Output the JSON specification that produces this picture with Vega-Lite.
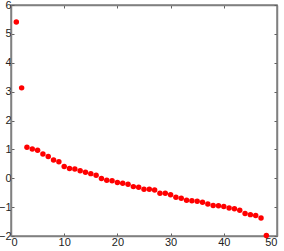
{
  "$schema": "https://vega.github.io/schema/vega-lite/v6.json",
  "autosize": "none",
  "width": 266,
  "height": 231,
  "padding": {"left": 11, "top": 5, "right": 6, "bottom": 15},
  "background": "white",
  "config": {
    "view": {"stroke": "#808080", "strokeWidth": 1.5},
    "axis": {
      "domainColor": "#808080",
      "domainWidth": 1.5,
      "tickColor": "#606060",
      "tickSize": -3,
      "grid": false,
      "labelFont": "Liberation Sans",
      "labelFontSize": 11,
      "labelColor": "#222222",
      "title": null
    }
  },
  "data": {
    "values": [
      {"i": 1, "v": 5.41}, {"i": 2, "v": 3.13}, {"i": 3, "v": 1.07}, {"i": 4, "v": 1.01},
      {"i": 5, "v": 0.97}, {"i": 6, "v": 0.84}, {"i": 7, "v": 0.75}, {"i": 8, "v": 0.63},
      {"i": 9, "v": 0.57}, {"i": 10, "v": 0.41}, {"i": 11, "v": 0.34}, {"i": 12, "v": 0.32},
      {"i": 13, "v": 0.26}, {"i": 14, "v": 0.21}, {"i": 15, "v": 0.16}, {"i": 16, "v": 0.10},
      {"i": 17, "v": -0.01}, {"i": 18, "v": -0.07}, {"i": 19, "v": -0.09}, {"i": 20, "v": -0.15},
      {"i": 21, "v": -0.17}, {"i": 22, "v": -0.21}, {"i": 23, "v": -0.29}, {"i": 24, "v": -0.31},
      {"i": 25, "v": -0.38}, {"i": 26, "v": -0.38}, {"i": 27, "v": -0.41}, {"i": 28, "v": -0.52},
      {"i": 29, "v": -0.52}, {"i": 30, "v": -0.57}, {"i": 31, "v": -0.66}, {"i": 32, "v": -0.69},
      {"i": 33, "v": -0.76}, {"i": 34, "v": -0.78}, {"i": 35, "v": -0.80}, {"i": 36, "v": -0.83},
      {"i": 37, "v": -0.89}, {"i": 38, "v": -0.94}, {"i": 39, "v": -0.95}, {"i": 40, "v": -0.98},
      {"i": 41, "v": -1.03}, {"i": 42, "v": -1.06}, {"i": 43, "v": -1.11}, {"i": 44, "v": -1.22},
      {"i": 45, "v": -1.26}, {"i": 46, "v": -1.29}, {"i": 47, "v": -1.38}, {"i": 48, "v": -1.98}
    ]
  },
  "layer": [
    {
      "mark": {"type": "point", "filled": true, "color": "#ff0000", "opacity": 1, "size": 30},
      "encoding": {
        "x": {
          "field": "i", "type": "quantitative",
          "scale": {"domain": [0, 50], "nice": false, "zero": false},
          "axis": {"values": [0, 10, 20, 30, 40, 50], "labelPadding": 3}
        },
        "y": {
          "field": "v", "type": "quantitative",
          "scale": {"domain": [-2, 6], "nice": false, "zero": false},
          "axis": {"values": [-2, -1, 0, 1, 2, 3, 4, 5, 6], "labelPadding": 3}
        }
      }
    },
    {
      "mark": {"type": "point", "opacity": 0},
      "encoding": {
        "x": {
          "field": "i", "type": "quantitative",
          "axis": {"orient": "top", "values": [0, 10, 20, 30, 40, 50], "labels": false}
        },
        "y": {
          "field": "v", "type": "quantitative",
          "axis": {"orient": "right", "values": [-2, -1, 0, 1, 2, 3, 4, 5, 6], "labels": false}
        }
      }
    }
  ],
  "resolve": {"axis": {"x": "independent", "y": "independent"}}
}
